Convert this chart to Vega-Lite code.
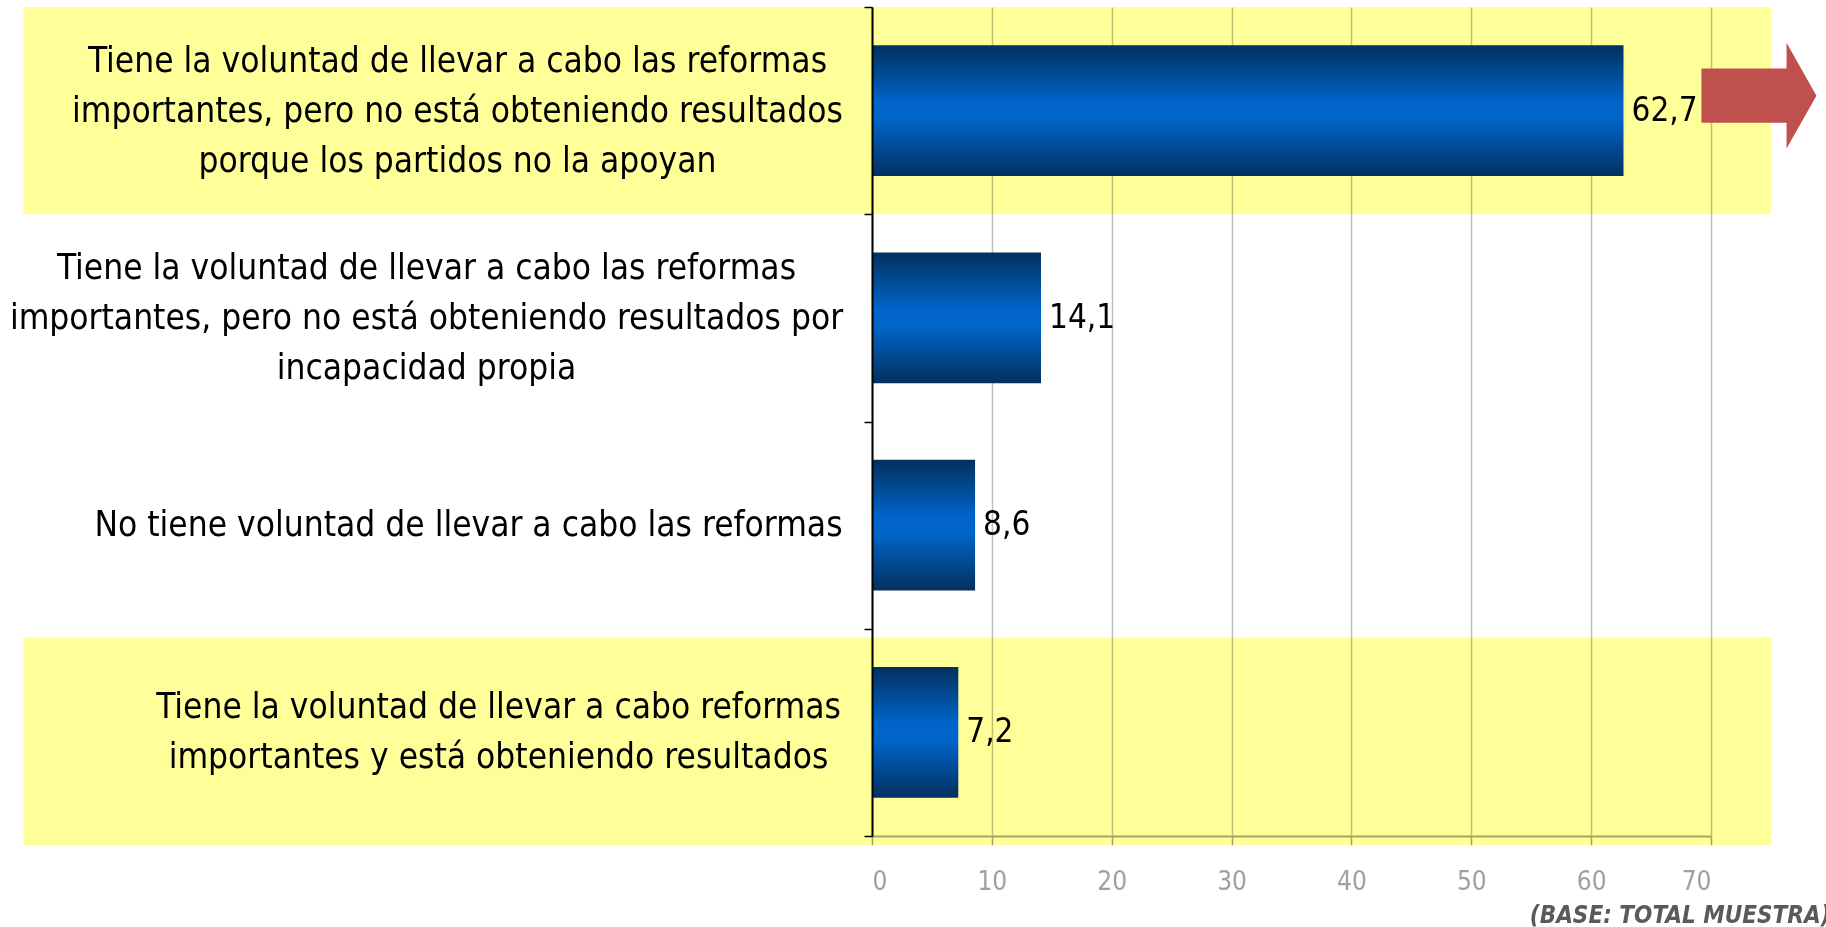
{
  "$schema": "https://vega.github.io/schema/vega-lite/v6.json",
  "width": 839,
  "height": 829,
  "autosize": {"type": "none"},
  "padding": {"left": 872, "top": 7, "right": 115, "bottom": 91},
  "background": "white",
  "config": {
    "view": {"stroke": null},
    "locale": {"number": {"decimal": ",", "thousands": ".", "grouping": [3], "currency": ["", " €"]}}
  },
  "data": {
    "values": [
      {"respuesta": "Tiene la voluntad de llevar a cabo las reformas\nimportantes, pero no está obteniendo resultados\nporque los partidos no la apoyan", "pct": 62.7, "destacado": true},
      {"respuesta": "Tiene la voluntad de llevar a cabo las reformas\nimportantes, pero no está obteniendo resultados por\nincapacidad propia", "pct": 14.1, "destacado": false},
      {"respuesta": "No tiene voluntad de llevar a cabo las reformas", "pct": 8.6, "destacado": false},
      {"respuesta": "Tiene la voluntad de llevar a cabo reformas\nimportantes y está obteniendo resultados", "pct": 7.2, "destacado": true}
    ]
  },
  "layer": [
    {
      "encoding": {
        "y": {
          "field": "respuesta", "type": "nominal", "sort": null,
          "axis": {
            "orient": "left", "title": null, "labels": false, "grid": false,
            "domain": true, "domainColor": "black", "domainWidth": 2,
            "ticks": true, "tickBand": "extent", "tickColor": "black", "tickSize": 8, "tickWidth": 1.5
          },
          "scale": {
            "paddingInner": 0, "paddingOuter": 0,
            "domain": [
              "Tiene la voluntad de llevar a cabo las reformas\nimportantes, pero no está obteniendo resultados\nporque los partidos no la apoyan",
              "Tiene la voluntad de llevar a cabo las reformas\nimportantes, pero no está obteniendo resultados por\nincapacidad propia",
              "No tiene voluntad de llevar a cabo las reformas",
              "Tiene la voluntad de llevar a cabo reformas\nimportantes y está obteniendo resultados"
            ]
          }
        },
        "x": {"datum": -70.8, "type": "quantitative", "scale": {"domain": [0, 70], "nice": false}},
        "x2": {"datum": 75}
      },
      "layer": [
        {
          "transform": [{"filter": "datum.destacado && datum.pct > 50"}],
          "mark": {"type": "rect", "color": "#FFFF99", "blend": "multiply"}
        },
        {
          "transform": [{"filter": "datum.destacado && datum.pct < 50"}],
          "mark": {"type": "rect", "color": "#FFFF99", "blend": "multiply", "yOffset": 9}
        }
      ]
    },
    {
      "layer": [
        {
          "mark": {
            "type": "bar",
            "fill": {
              "gradient": "linear", "x1": 0, "y1": 0, "x2": 0, "y2": 1,
              "stops": [
                {"offset": 0, "color": "#03305F"},
                {"offset": 0.42, "color": "#0063C6"},
                {"offset": 0.5, "color": "#0066CC"},
                {"offset": 0.58, "color": "#0063C6"},
                {"offset": 1, "color": "#03305F"}
              ]
            }
          },
          "encoding": {
            "y": {
              "field": "respuesta", "type": "nominal", "sort": null,
              "scale": {"paddingInner": 0.37, "paddingOuter": 0.185},
              "axis": {
                "orient": "left", "title": null,
                "domain": false, "ticks": false, "grid": false,
                "labelFont": "DejaVu Sans Condensed", "labelFontSize": 35, "labelColor": "black",
                "labelAlign": "center", "labelBaseline": "middle",
                "labelLimit": 0, "labelLineHeight": 50, "labelOverlap": false,
                "labelExpr": "split(datum.value, '\\n')",
                "labelPadding": {
                  "condition": [
                    {"test": "indexof(datum.value, 'partidos') >= 0", "value": 415},
                    {"test": "indexof(datum.value, 'incapacidad') >= 0", "value": 446},
                    {"test": "indexof(datum.value, 'No tiene') === 0", "value": 404}
                  ],
                  "value": 374
                },
                "labelOffset": {
                  "condition": [
                    {"test": "indexof(datum.value, 'partidos') >= 0", "value": -50},
                    {"test": "indexof(datum.value, 'incapacidad') >= 0", "value": -50},
                    {"test": "indexof(datum.value, 'No tiene') === 0", "value": 0}
                  ],
                  "value": -25
                }
              }
            },
            "x": {
              "field": "pct", "type": "quantitative",
              "scale": {"domain": [0, 70], "nice": false},
              "axis": {
                "values": [0, 10, 20, 30, 40, 50, 60, 70],
                "title": "(BASE: TOTAL MUESTRA)",
                "grid": true, "gridColor": "#C0C0C0", "gridWidth": 1.5,
                "domainColor": "#A6A6A6", "domainWidth": 2,
                "tickColor": "#A6A6A6", "tickSize": 9, "tickWidth": 1.5,
                "labelFont": "DejaVu Sans Condensed", "labelFontSize": 26, "labelColor": "#A0A0A0", "labelPadding": 23,
                "titleFont": "DejaVu Sans Condensed", "titleFontSize": 24, "titleFontWeight": "bold", "titleFontStyle": "italic",
                "titleColor": "#5A5A5A", "titleX": 958, "titleY": 79, "titleAlign": "right", "titleBaseline": "middle"
              }
            }
          }
        },
        {
          "mark": {"type": "text", "align": "left", "baseline": "middle", "dx": 8, "font": "DejaVu Sans Condensed", "fontSize": 33, "color": "black"},
          "encoding": {
            "y": {"field": "respuesta", "type": "nominal", "sort": null},
            "x": {"field": "pct", "type": "quantitative"},
            "text": {"field": "pct", "type": "quantitative", "format": ".1f"}
          }
        },
        {
          "transform": [{"filter": "datum.pct > 50"}],
          "mark": {
            "type": "point",
            "shape": "M-1,-0.47L0.48,-0.47L0.48,-0.92L1,0L0.48,0.92L0.48,0.47L-1,0.47Z",
            "size": 13225, "filled": true, "fill": "#C0504D", "opacity": 1, "strokeWidth": 0, "yOffset": -15
          },
          "encoding": {
            "y": {"field": "respuesta", "type": "nominal", "sort": null},
            "x": {"datum": 74, "type": "quantitative"}
          }
        }
      ]
    }
  ],
  "resolve": {"scale": {"y": "independent"}}
}
